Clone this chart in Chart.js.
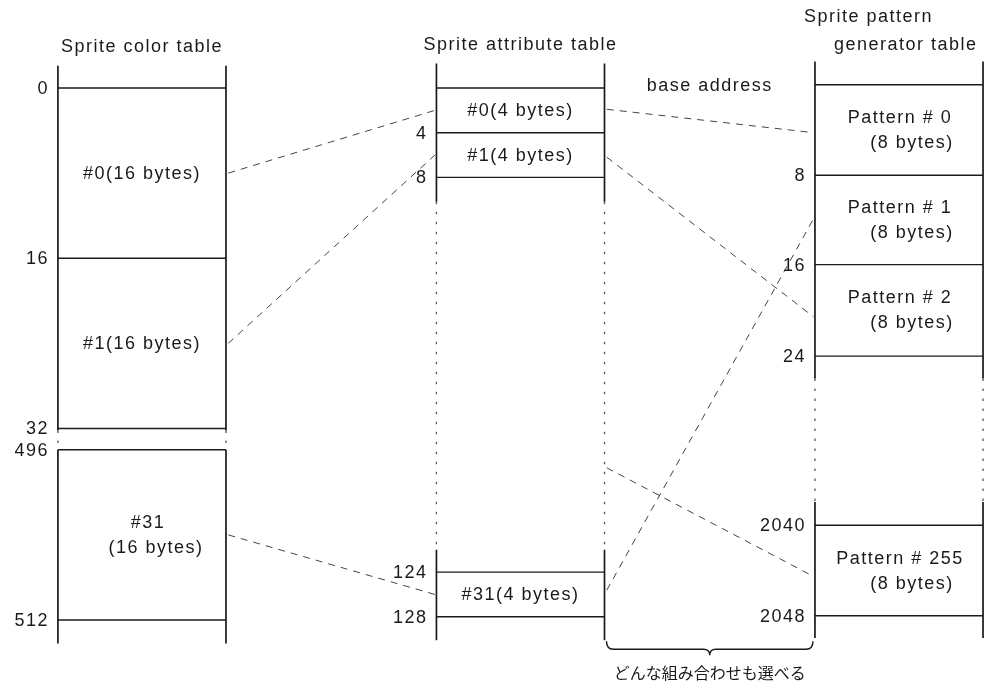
<!DOCTYPE html>
<html lang="ja">
<head>
<meta charset="utf-8">
<title>Sprite tables</title>
<script src="https://cdn.jsdelivr.net/npm/chart.js@4.4.1/dist/chart.umd.min.js"></script>
<style>
  html, body { margin: 0; padding: 0; background: #fff; }
  #wrap { width: 992px; height: 688px; }
</style>
</head>
<body>
<div id="wrap"><canvas id="mapa"></canvas></div>
<script>
// columna 0 = color table, 1 = attribute table, 2 = pattern generator table
const tableTitles = [["Sprite color table"], ["Sprite attribute table"], ["Sprite pattern", "generator table"]];

// filas (posicion vertical) de cada linea de direccion
const colorAddr = ["0", "16", "32", "496", "512"];
const colorRows = [0, 16, 32, 34, 50];
const colorSlots = [["#0(16 bytes)"], ["#1(16 bytes)"], ["#31", "(16 bytes)"]];
const colorSlotRows = [8, 24, 42];

const attrAddr = ["", "4", "8", "124", "128"];
const attrRows = [0, 4.2, 8.4, 45.5, 49.7];
const attrSlots = [["#0(4 bytes)"], ["#1(4 bytes)"], ["#31(4 bytes)"]];
const attrSlotRows = [2.1, 6.3, 47.6];

const patternAddr = ["", "8", "16", "24", "2040", "2048"];
const patternRows = [-0.3, 8.2, 16.6, 25.2, 41.1, 49.6];
const patternSlots = [["Pattern # 0", "(8 bytes)"], ["Pattern # 1", "(8 bytes)"], ["Pattern # 2", "(8 bytes)"], ["Pattern # 255", "(8 bytes)"]];
const patternSlotRows = [3.95, 12.4, 20.9, 45.35];

// enlaces punteados: [fila en tabla izquierda, fila en tabla derecha]
const colorToAttr = [[8, 2.1], [24, 6.3], [42, 47.6]];
const attrToPattern = [[2.0, 4.2], [6.5, 21.5], [47.2, 12.3], [35.7, 45.9]];

const baseLabel = "base address";
const braceLabel = "どんな組み合わせも選べる";

// ---- layout ----
const HALF = 0.222;
const frames = [
  { top: -2.1, solidEnd: 32.2, gapEnd: 34, bottom: 52.2 },
  { top: -2.3, solidEnd: 10.7, gapEnd: 43.4, bottom: 51.9 },
  { top: -2.5, solidEnd: 27.3, gapEnd: 38.9, bottom: 51.7 },
];
const tables = [
  { addr: colorAddr, rows: colorRows, slots: colorSlots, slotRows: colorSlotRows, off1: 6, off2: 14 },
  { addr: attrAddr, rows: attrRows, slots: attrSlots, slotRows: attrSlotRows, off1: 0, off2: 0 },
  { addr: patternAddr, rows: patternRows, slots: patternSlots, slotRows: patternSlotRows, off1: 1, off2: 13 },
];

const INK = "#1a1a1a";
const datasets = [];

function seg(pts, extra) {
  datasets.push(Object.assign({
    data: pts,
    showLine: true,
    pointRadius: 0,
    fill: false,
    borderColor: INK,
    borderWidth: 1.7,
  }, extra || {}));
}

tables.forEach((t, c) => {
  t.rows.forEach((r) => seg([{ x: c - HALF, y: r }, { x: c + HALF, y: r }], { borderWidth: 1.4 }));
  const f = frames[c];
  [c - HALF, c + HALF].forEach((xs) => {
    seg([{ x: xs, y: f.top }, { x: xs, y: f.solidEnd }]);
    seg([{ x: xs, y: f.solidEnd }, { x: xs, y: f.gapEnd }], { borderDash: [2.5, 7.5], borderWidth: 1.3, borderColor: "#555" });
    seg([{ x: xs, y: f.gapEnd }, { x: xs, y: f.bottom }]);
  });
});

const dashStyle = { borderDash: [7, 6], borderWidth: 1, borderColor: "#444" };
colorToAttr.forEach(([a, b]) => seg([{ x: HALF + 0.006, y: a }, { x: 1 - HALF - 0.004, y: b }], dashStyle));
attrToPattern.forEach(([a, b]) => seg([{ x: 1 + HALF + 0.006, y: a }, { x: 2 - HALF - 0.004, y: b }], dashStyle));

const diagramText = {
  id: "diagramText",
  afterDatasetsDraw(chart) {
    const { ctx, scales: { x, y } } = chart;
    ctx.save();
    ctx.fillStyle = INK;
    ctx.font = '18px "Liberation Sans", Arial, sans-serif';
    ctx.letterSpacing = "1.5px";
    ctx.textBaseline = "middle";

    // titulos
    ctx.textAlign = "center";
    ctx.fillText(tableTitles[0][0], x.getPixelForValue(0), 47);
    ctx.fillText(tableTitles[1][0], x.getPixelForValue(1), 45);
    ctx.textAlign = "left";
    ctx.fillText(tableTitles[2][0], x.getPixelForValue(2) - 95, 17);
    ctx.fillText(tableTitles[2][1], x.getPixelForValue(2) - 65, 45);

    ctx.textAlign = "center";
    ctx.fillText(baseLabel, x.getPixelForValue(1.5), y.getPixelForValue(-0.2));

    tables.forEach((t, c) => {
      const left = x.getPixelForValue(c - HALF);
      const mid = x.getPixelForValue(c);
      ctx.textAlign = "right";
      t.addr.forEach((lab, i) => {
        if (lab) ctx.fillText(lab, left - 9, y.getPixelForValue(t.rows[i]) + 1);
      });
      ctx.textAlign = "center";
      t.slots.forEach((lines, i) => {
        const py = y.getPixelForValue(t.slotRows[i]);
        if (lines.length === 1) {
          ctx.fillText(lines[0], mid, py + 1);
        } else {
          ctx.fillText(lines[0], mid + t.off1, py - 12);
          ctx.fillText(lines[1], mid + t.off2, py + 13);
        }
      });
    });

    // llave inferior
    const bx1 = x.getPixelForValue(1 + HALF) + 2;
    const bx2 = x.getPixelForValue(2 - HALF) - 2;
    const bm = (bx1 + bx2) / 2;
    const by0 = y.getPixelForValue(52.0);
    const by1 = by0 + 8;
    const by2 = by1 + 6;
    ctx.beginPath();
    ctx.lineWidth = 1.4;
    ctx.strokeStyle = INK;
    ctx.moveTo(bx1, by0);
    ctx.quadraticCurveTo(bx1, by1, bx1 + 7, by1);
    ctx.lineTo(bm - 6, by1);
    ctx.quadraticCurveTo(bm, by1, bm, by2);
    ctx.quadraticCurveTo(bm, by1, bm + 6, by1);
    ctx.lineTo(bx2 - 7, by1);
    ctx.quadraticCurveTo(bx2, by1, bx2, by0);
    ctx.stroke();

    ctx.letterSpacing = "0px";
    ctx.font = '16px "Noto Sans CJK JP", sans-serif';
    ctx.fillText(braceLabel, bm, y.getPixelForValue(55.0));
    ctx.restore();
  },
};

new Chart(document.getElementById("mapa"), {
  type: "scatter",
  data: { datasets },
  options: {
    responsive: true,
    maintainAspectRatio: false,
    animation: false,
    layout: { padding: 0 },
    plugins: { legend: { display: false }, tooltip: { enabled: false } },
    scales: {
      x: { type: "linear", min: -0.375, max: 2.2457, display: false },
      y: { type: "linear", min: -8.27, max: 56.39, reverse: true, display: false },
    },
  },
  plugins: [diagramText],
});
</script>
</body>
</html>
